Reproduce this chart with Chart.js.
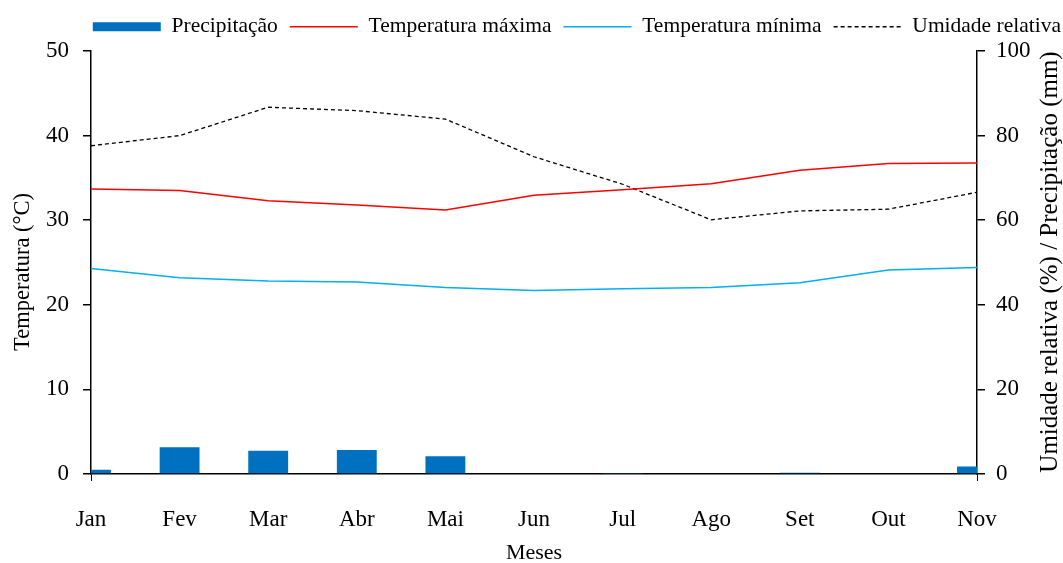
<!DOCTYPE html>
<html>
<head>
<meta charset="utf-8">
<script src="https://cdn.jsdelivr.net/npm/chart.js@4.4.1/dist/chart.umd.min.js"></script>
<style>
html,body{margin:0;padding:0;background:#fff;}
#wrap{width:1063px;height:563px;position:relative;}
</style>
</head>
<body>
<div id="wrap"><canvas id="c" width="1063" height="563"></canvas></div>
<script>
const months = ['Jan','Fev','Mar','Abr','Mai','Jun','Jul','Ago','Set','Out','Nov'];
const precipitacao = [1.0, 6.3, 5.5, 5.7, 4.2, 0, 0.1, 0, 0.3, 0, 1.8];
const tempMax = [33.7, 33.5, 32.3, 31.8, 31.2, 32.95, 33.6, 34.3, 35.9, 36.7, 36.75];
const tempMin = [24.3, 23.2, 22.8, 22.7, 22.05, 21.7, 21.9, 22.05, 22.6, 24.1, 24.4];
const umidade = [77.6, 80.0, 86.7, 85.9, 83.9, 75.0, 68.5, 60.1, 62.2, 62.6, 66.6];

const FONT = 'Liberation Serif';

const legendFix = {
  id: 'legendFix',
  beforeLayout(chart) {
    const lg = chart.legend;
    if (lg && !lg._fixed) {
      const f = lg.fit;
      lg.fit = function () { f.call(this); this.height = 47; };
      lg._fixed = true;
    }
  }
};

const axisTitles = {
  id: 'axisTitles',
  afterDraw(chart) {
    const ctx = chart.ctx;
    ctx.save();
    ctx.fillStyle = '#000';
    ctx.textAlign = 'center';
    ctx.textBaseline = 'middle';
    ctx.font = '22.5px "' + FONT + '"';
    ctx.translate(23, 272);
    ctx.rotate(-Math.PI / 2);
    ctx.fillText('Temperatura (°C)', 0, 0);
    ctx.restore();
    ctx.save();
    ctx.fillStyle = '#000';
    ctx.textAlign = 'center';
    ctx.textBaseline = 'middle';
    ctx.font = '25px "' + FONT + '"';
    ctx.translate(1050, 262);
    ctx.rotate(-Math.PI / 2);
    ctx.fillText('Umidade relativa (%) / Precipitação (mm)', 0, 0);
    ctx.restore();
  }
};

new Chart(document.getElementById('c'), {
  type: 'bar',
  data: {
    labels: months,
    datasets: [
      {
        type: 'bar', label: 'Precipitação', data: precipitacao, yAxisID: 'y1',
        backgroundColor: '#0070C0', borderWidth: 0,
        categoryPercentage: 0.45, barPercentage: 1, clip: 0,
        pointStyle: 'rect'
      },
      {
        type: 'line', label: 'Temperatura máxima', data: tempMax, yAxisID: 'y',
        borderColor: '#FF0000', backgroundColor: '#FF0000', borderWidth: 1.5,
        pointRadius: 0, pointBorderWidth: 1.5, pointBorderColor: '#FF0000',
        tension: 0, pointStyle: 'line'
      },
      {
        type: 'line', label: 'Temperatura mínima', data: tempMin, yAxisID: 'y',
        borderColor: '#00B0F0', backgroundColor: '#00B0F0', borderWidth: 1.5,
        pointRadius: 0, pointBorderWidth: 1.5, pointBorderColor: '#00B0F0',
        tension: 0, pointStyle: 'line'
      },
      {
        type: 'line', label: 'Umidade relativa', data: umidade, yAxisID: 'y1',
        borderColor: '#000000', backgroundColor: '#000000', borderWidth: 1.3,
        borderDash: [4, 3], pointRadius: 0, pointBorderWidth: 1.3, pointBorderColor: '#000000',
        tension: 0, pointStyle: 'line'
      }
    ]
  },
  options: {
    responsive: false,
    animation: false,
    devicePixelRatio: 1,
    layout: { padding: { top: 4, right: -10, left: 0, bottom: 0 } },
    plugins: {
      tooltip: { enabled: false },
      legend: {
        position: 'top', align: 'end',
        labels: {
          usePointStyle: true, pointStyleWidth: 68, boxHeight: 9,
          padding: 12, color: '#000',
          font: { family: FONT, size: 21.5 },
          generateLabels(chart) {
            const items = Chart.defaults.plugins.legend.labels.generateLabels(chart);
            items.forEach((it) => {
              const ds = chart.data.datasets[it.datasetIndex];
              it.lineDash = ds.borderDash || [];
              if (ds.type === 'line') it.lineWidth = ds.borderWidth;
            });
            return items;
          }
        }
      }
    },
    scales: {
      x: {
        offset: false,
        grid: {
          display: true, drawOnChartArea: false, tickLength: 7, offset: false,
          color: (c) => (c.index === 0 || c.index === months.length - 1) ? '#000' : 'rgba(0,0,0,0)'
        },
        border: { display: true, color: '#000', width: 1.5 },
        ticks: { color: '#000', font: { family: FONT, size: 23 }, padding: 25, maxRotation: 0, autoSkip: false },
        title: { display: true, text: 'Meses', color: '#000', font: { family: FONT, size: 22 }, padding: { top: 5, bottom: -3 } },
        afterFit: (s) => { s.height = 89; }
      },
      y: {
        position: 'left', min: 0, max: 50,
        grid: { display: true, drawOnChartArea: false, tickLength: 8, color: '#000', lineWidth: 1.5 },
        border: { display: true, color: '#000', width: 1.5 },
        ticks: { stepSize: 10, color: '#000', font: { family: FONT, size: 23 }, padding: 14 },
        afterFit: (s) => { s.width = 91; }
      },
      y1: {
        position: 'right', min: 0, max: 100,
        grid: { display: true, drawOnChartArea: false, tickLength: 8, color: '#000', lineWidth: 1.5 },
        border: { display: true, color: '#000', width: 1.5 },
        ticks: { stepSize: 20, color: '#000', font: { family: FONT, size: 23 }, padding: 11 },
        afterFit: (s) => { s.width = 96; }
      }
    }
  },
  plugins: [legendFix, axisTitles]
});
</script>
</body>
</html>
